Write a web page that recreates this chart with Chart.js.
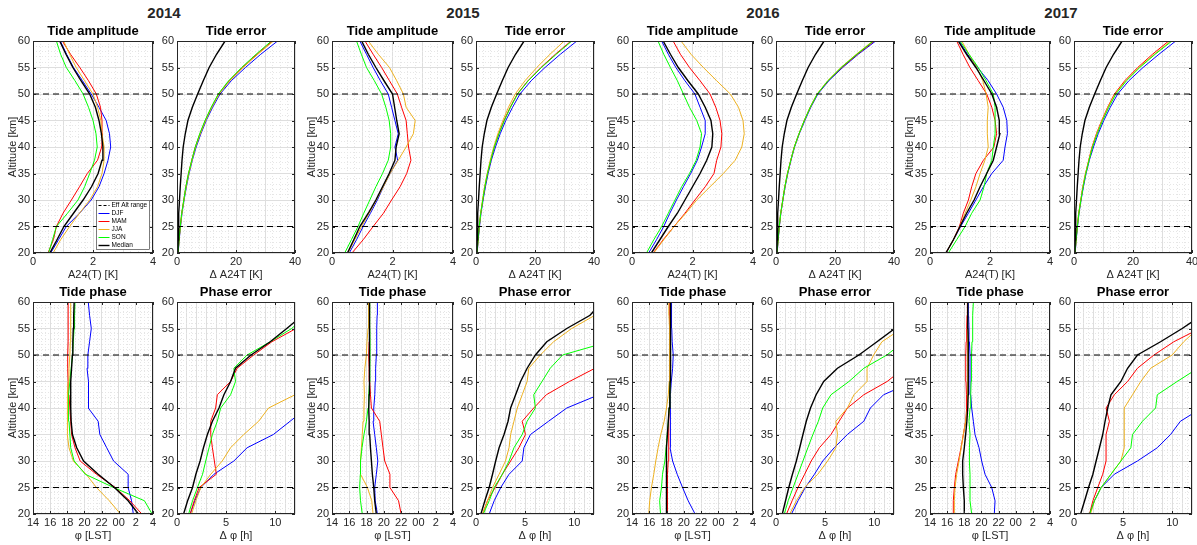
<!DOCTYPE html>
<html>
<head>
<meta charset="utf-8">
<script src="https://cdn.jsdelivr.net/npm/chart.js@4.4.0/dist/chart.umd.min.js"></script>
<style>
body{margin:0;background:#fff;width:1197px;height:545px;overflow:hidden;position:relative;font-family:"Liberation Sans",Arial,sans-serif}
.year{position:absolute;top:4px;width:80px;margin-left:-40px;text-align:center;font-weight:bold;font-size:15px;line-height:17px;color:#262626}
canvas{position:absolute}
</style>
</head>
<body>
<script>
// ---- data ----
var years = ['2014', '2015', '2016', '2017'];
var seasons = ['DJF', 'MAM', 'JJA', 'SON', 'Median'];
var seasonColors = ['#0000ff', '#ff0000', '#edb120', '#00ff00', '#000000'];
var altitude = [20, 22.5, 25, 27.5, 30, 32.5, 35, 37.5, 40, 42.5, 45, 47.5, 50, 52.5, 55, 57.5, 60];
var effAltRange = [25, 50];

var altTicks = [20, 25, 30, 35, 40, 45, 50, 55, 60];
var ampTicks = [0, 2, 4];
var errTicks = [0, 20, 40];
var phaseTicks = [14, 16, 18, 20, 22, 24, 26, 28];
var phaseTickLabels = ['14', '16', '18', '20', '22', '00', '2', '4'];
var phErrTicks = [0, 5, 10];

// tide amplitude A24(T) [K], rows DJF, MAM, JJA, SON, Median
var amp2014 = [
  [0.59, 0.85, 1.11, 1.55, 1.94, 2.2, 2.37, 2.5, 2.59, 2.55, 2.44, 2.2, 1.94, 1.65, 1.35, 1.12, 0.91],
  [0.5, 0.68, 0.78, 1.0, 1.28, 1.55, 1.81, 2.15, 2.29, 2.32, 2.3, 2.25, 2.11, 1.85, 1.56, 1.25, 0.98],
  [0.67, 0.92, 1.22, 1.55, 1.89, 2.15, 2.3, 2.37, 2.37, 2.3, 2.26, 2.15, 2.0, 1.72, 1.44, 1.22, 1.02],
  [0.52, 0.65, 0.78, 1.15, 1.5, 1.72, 1.89, 2.05, 2.14, 2.1, 2.0, 1.85, 1.67, 1.4, 1.11, 0.92, 0.78],
  [0.56, 0.8, 1.03, 1.35, 1.67, 1.95, 2.17, 2.3, 2.33, 2.28, 2.2, 2.08, 1.89, 1.6, 1.33, 1.1, 0.89]
];
var amp2015 = [
  [0.57, 0.81, 1.03, 1.27, 1.5, 1.7, 1.92, 2.17, 2.08, 2.19, 2.08, 1.97, 1.86, 1.6, 1.36, 1.14, 0.92],
  [0.66, 1.03, 1.36, 1.7, 1.97, 2.25, 2.47, 2.61, 2.53, 2.49, 2.45, 2.3, 2.16, 1.9, 1.64, 1.36, 1.09],
  [0.53, 0.75, 0.98, 1.23, 1.47, 1.7, 1.92, 2.19, 2.45, 2.69, 2.75, 2.45, 2.36, 2.14, 1.9, 1.53, 1.2],
  [0.42, 0.64, 0.86, 1.05, 1.25, 1.45, 1.67, 1.86, 1.94, 1.94, 1.89, 1.78, 1.64, 1.4, 1.14, 0.97, 0.81],
  [0.51, 0.72, 0.92, 1.2, 1.45, 1.67, 1.89, 2.08, 2.12, 2.22, 2.14, 2.07, 2.0, 1.72, 1.45, 1.2, 0.98]
];
var amp2016 = [
  [0.55, 0.81, 1.05, 1.25, 1.47, 1.7, 1.94, 2.16, 2.3, 2.42, 2.42, 2.25, 2.08, 1.75, 1.45, 1.2, 0.98],
  [0.7, 1.03, 1.39, 1.75, 2.08, 2.42, 2.71, 2.8, 2.94, 2.97, 2.91, 2.77, 2.58, 2.25, 1.9, 1.6, 1.36],
  [0.72, 1.05, 1.39, 1.78, 2.14, 2.58, 3.02, 3.41, 3.63, 3.71, 3.67, 3.52, 3.25, 2.8, 2.36, 1.95, 1.62],
  [0.48, 0.72, 0.98, 1.2, 1.42, 1.64, 1.9, 2.12, 2.25, 2.3, 2.14, 1.9, 1.7, 1.5, 1.27, 1.05, 0.86],
  [0.64, 0.92, 1.2, 1.5, 1.75, 2.0, 2.25, 2.47, 2.64, 2.67, 2.61, 2.42, 2.19, 1.85, 1.53, 1.27, 1.03]
];
var amp2017 = [
  [0.53, 0.78, 1.02, 1.28, 1.53, 1.78, 2.06, 2.44, 2.5, 2.58, 2.56, 2.44, 2.22, 1.94, 1.59, 1.25, 0.97],
  [0.53, 0.78, 0.98, 1.11, 1.28, 1.39, 1.53, 1.78, 2.13, 2.22, 2.17, 2.06, 1.89, 1.61, 1.33, 1.1, 0.89],
  [0.53, 0.78, 1.0, 1.17, 1.36, 1.53, 1.67, 1.83, 1.94, 1.91, 1.91, 1.94, 1.87, 1.76, 1.56, 1.3, 1.06],
  [0.61, 0.89, 1.17, 1.39, 1.67, 1.8, 1.89, 2.06, 2.11, 2.17, 2.17, 2.17, 2.11, 1.87, 1.61, 1.3, 1.0],
  [0.53, 0.78, 1.0, 1.22, 1.47, 1.67, 1.89, 2.11, 2.22, 2.33, 2.31, 2.22, 2.06, 1.8, 1.53, 1.22, 0.94]
];

// tide error Δ A24T [K]
var err2014 = [
  [0.4, 0.75, 1.2, 1.7, 2.4, 3.2, 4.1, 5.2, 6.5, 8.1, 9.9, 12.1, 14.6, 18.4, 23.2, 28.4, 34.1],
  [0.35, 0.7, 1.1, 1.6, 2.3, 3.0, 3.9, 5.0, 6.2, 7.8, 9.6, 11.7, 14.1, 17.7, 22.2, 27.1, 32.4],
  [0.35, 0.7, 1.15, 1.65, 2.35, 3.1, 4.0, 5.1, 6.3, 7.9, 9.7, 11.8, 14.3, 17.9, 22.4, 27.4, 32.7],
  [0.35, 0.7, 1.1, 1.6, 2.3, 3.0, 3.9, 5.0, 6.2, 7.7, 9.5, 11.6, 14.0, 17.5, 21.9, 26.8, 32.0],
  [0.3, 0.4, 0.5, 0.65, 0.85, 1.1, 1.4, 1.7, 2.1, 2.8, 3.7, 5.2, 7.0, 8.9, 10.9, 13.4, 16.3]
];
var err2015 = [
  [0.4, 0.75, 1.2, 1.7, 2.4, 3.2, 4.1, 5.2, 6.6, 8.2, 10.1, 12.4, 14.9, 18.7, 23.4, 28.6, 34.2],
  [0.35, 0.7, 1.1, 1.6, 2.3, 3.0, 3.9, 5.0, 6.2, 7.7, 9.5, 11.6, 14.0, 17.6, 22.0, 26.9, 32.2],
  [0.35, 0.7, 1.1, 1.6, 2.2, 2.9, 3.8, 4.8, 6.0, 7.4, 9.1, 11.0, 13.3, 16.6, 20.6, 25.1, 29.9],
  [0.35, 0.7, 1.1, 1.6, 2.3, 3.0, 3.9, 5.0, 6.2, 7.8, 9.6, 11.7, 14.1, 17.7, 22.2, 27.2, 32.5],
  [0.3, 0.4, 0.5, 0.65, 0.85, 1.1, 1.4, 1.7, 2.1, 2.8, 3.7, 5.2, 7.0, 8.9, 10.9, 13.4, 16.3]
];
var err2016 = [
  [0.4, 0.75, 1.15, 1.65, 2.35, 3.1, 4.0, 5.1, 6.3, 7.9, 9.8, 11.8, 14.2, 17.9, 22.6, 27.9, 33.8],
  [0.35, 0.7, 1.1, 1.6, 2.3, 3.0, 3.9, 5.0, 6.2, 7.8, 9.6, 11.6, 14.0, 17.7, 22.3, 27.6, 33.3],
  [0.35, 0.7, 1.1, 1.6, 2.3, 3.0, 3.9, 5.0, 6.2, 7.8, 9.6, 11.6, 13.9, 17.5, 22.0, 27.2, 32.8],
  [0.35, 0.7, 1.1, 1.6, 2.3, 3.0, 3.9, 5.0, 6.2, 7.8, 9.6, 11.6, 14.0, 17.6, 22.1, 27.4, 33.0],
  [0.3, 0.4, 0.5, 0.65, 0.85, 1.1, 1.4, 1.7, 2.1, 2.8, 3.7, 5.2, 7.0, 8.9, 10.9, 13.4, 16.3]
];
var err2017 = [
  [0.4, 0.75, 1.2, 1.7, 2.4, 3.2, 4.1, 5.2, 6.6, 8.2, 10.1, 12.3, 14.8, 18.6, 23.4, 28.8, 34.5],
  [0.35, 0.7, 1.1, 1.6, 2.3, 3.0, 3.9, 5.0, 6.1, 7.6, 9.4, 11.4, 13.7, 17.2, 21.6, 26.6, 32.1],
  [0.35, 0.7, 1.1, 1.6, 2.3, 3.0, 3.9, 5.0, 6.2, 7.7, 9.5, 11.5, 13.9, 17.5, 22.0, 27.2, 32.8],
  [0.35, 0.7, 1.15, 1.65, 2.35, 3.1, 4.0, 5.1, 6.3, 7.9, 9.7, 11.8, 14.2, 17.8, 22.3, 27.5, 33.2],
  [0.3, 0.4, 0.5, 0.65, 0.85, 1.1, 1.4, 1.7, 2.1, 2.8, 3.7, 5.2, 7.0, 8.9, 10.9, 13.4, 16.3]
];

// tide phase φ [LST], hours after 24 written as 24+
var ph2014 = [
  [25.7, 25.5, 25.1, 25.1, 23.4, 22.6, 21.8, 21.6, 20.45, 20.5, 20.45, 20.3, 20.4, 20.6, 20.8, 20.6, 20.45],
  [26.7, 25.3, 23.6, 21.4, 19.5, 18.9, 18.5, 18.4, 18.3, 18.2, 18.1, 18.05, 18.05, 18.1, 18.1, 18.1, 18.1],
  [24.2, 22.9, 21.4, 20.2, 18.7, 18.2, 18.0, 18.0, 18.0, 18.05, 18.1, 18.2, 18.3, 18.35, 18.4, 18.4, 18.4],
  [27.9, 27.0, 23.4, 20.1, 18.8, 18.4, 18.3, 18.2, 18.1, 18.2, 18.3, 18.45, 18.6, 18.7, 18.8, 18.85, 18.9],
  [26.3, 25.1, 23.5, 21.6, 19.9, 19.1, 18.6, 18.45, 18.4, 18.4, 18.4, 18.5, 18.6, 18.65, 18.7, 18.75, 18.8]
];
var ph2015 = [
  [19.25, 19.0, 18.94, 19.13, 19.3, 19.13, 18.94, 18.75, 18.83, 18.95, 19.0, 19.05, 19.13, 19.15, 19.2, 19.22, 19.25],
  [22.0, 21.7, 20.7, 20.7, 20.1, 19.9, 19.71, 19.52, 18.56, 18.45, 18.36, 18.3, 18.25, 18.3, 18.33, 18.35, 18.36],
  [18.75, 18.6, 18.1, 17.3, 17.3, 17.4, 17.5, 17.6, 17.7, 17.75, 17.7, 17.8, 17.98, 18.05, 18.17, 18.2, 18.25],
  [17.5, 17.3, 17.2, 17.28, 17.3, 17.47, 17.7, 17.98, 18.17, 18.25, 18.36, 18.38, 18.4, 18.4, 18.38, 18.37, 18.36],
  [19.13, 18.94, 18.83, 18.67, 18.56, 18.45, 18.36, 18.3, 18.25, 18.3, 18.36, 18.36, 18.36, 18.34, 18.33, 18.31, 18.3]
];
var ph2016 = [
  [21.3, 20.5, 19.85, 19.23, 18.7, 18.4, 18.4, 18.42, 18.46, 18.5, 18.55, 18.7, 18.77, 18.65, 18.6, 18.58, 18.57],
  [18.1, 18.07, 18.1, 18.15, 18.19, 18.22, 18.25, 18.28, 18.3, 18.33, 18.35, 18.37, 18.38, 18.38, 18.38, 18.38, 18.38],
  [15.94, 16.05, 16.25, 16.52, 16.75, 17.02, 17.33, 17.72, 17.99, 18.2, 18.3, 18.35, 18.38, 18.35, 18.3, 18.28, 18.26],
  [17.3, 17.2, 17.41, 17.53, 17.8, 17.95, 18.07, 18.2, 18.3, 18.38, 18.42, 18.45, 18.46, 18.46, 18.46, 18.46, 18.46],
  [17.99, 17.99, 17.99, 17.99, 17.99, 17.99, 18.1, 18.2, 18.3, 18.38, 18.42, 18.45, 18.46, 18.46, 18.46, 18.46, 18.46]
];
var ph2017 = [
  [21.5, 21.59, 21.2, 20.42, 20.03, 19.72, 19.25, 19.06, 18.86, 18.75, 18.67, 18.67, 18.67, 18.6, 18.55, 18.5, 18.47],
  [16.72, 16.72, 16.84, 17.0, 17.31, 17.62, 17.89, 18.16, 18.28, 18.25, 18.2, 18.18, 18.16, 18.22, 18.28, 18.32, 18.36],
  [16.84, 16.84, 16.92, 17.11, 17.39, 17.65, 17.89, 18.16, 18.4, 18.38, 18.36, 18.36, 18.36, 18.38, 18.4, 18.4, 18.4],
  [18.86, 18.67, 18.67, 18.67, 18.59, 18.6, 18.67, 18.55, 18.67, 18.75, 18.8, 18.83, 18.86, 18.9, 18.96, 19.0, 19.06],
  [18.0, 18.0, 17.89, 17.81, 17.81, 18.0, 18.16, 18.3, 18.4, 18.45, 18.47, 18.47, 18.47, 18.45, 18.43, 18.41, 18.4]
];

// phase error Δφ [h]; rows stop once the line has left the axes
var pe2014 = [
  [1.34, 1.82, 2.42, 3.76, 5.78, 7.13, 9.8, 11.5, 13.2],
  [1.34, 1.75, 2.25, 4.0, 3.8, 3.6, 3.43, 3.43, 3.93, 4.1, 5.45, 6.12, 7.8, 9.65, 12.1, 14.0],
  [1.48, 1.92, 2.42, 3.43, 4.6, 5.45, 6.79, 8.3, 9.31, 12.0, 13.6],
  [1.18, 1.58, 2.08, 2.6, 2.92, 3.26, 3.6, 4.1, 4.44, 5.45, 5.95, 5.78, 7.13, 9.48, 11.66, 13.2],
  [0.67, 1.08, 1.58, 1.92, 2.35, 2.69, 3.09, 3.6, 4.27, 4.77, 5.45, 5.95, 7.53, 9.48, 11.16, 12.8, 14.5]
];
var pe2015 = [
  [1.34, 1.85, 2.52, 3.36, 4.7, 4.87, 5.54, 7.38, 9.23, 12.5],
  [0.67, 1.17, 1.95, 2.68, 3.52, 4.36, 5.03, 4.7, 5.87, 7.15, 9.5, 12.1],
  [0.67, 1.17, 1.68, 2.35, 3.0, 3.36, 3.52, 3.86, 4.2, 4.7, 5.2, 5.37, 6.54, 7.89, 9.73, 12.1, 13.0],
  [0.74, 1.34, 1.85, 2.68, 3.36, 3.86, 4.7, 5.2, 6.04, 5.87, 6.71, 7.55, 8.8, 13.5],
  [0.5, 0.9, 1.34, 1.68, 2.0, 2.35, 2.85, 3.26, 3.52, 4.03, 4.53, 5.2, 6.04, 7.2, 9.23, 11.6, 12.8]
];
var pe2016 = [
  [1.57, 2.24, 2.98, 3.91, 4.75, 5.92, 7.26, 8.93, 9.6, 10.94, 14.0],
  [1.07, 1.64, 2.24, 2.91, 3.58, 4.41, 5.59, 6.42, 7.26, 8.93, 11.3, 13.0],
  [1.4, 2.07, 2.91, 4.25, 5.25, 6.09, 6.25, 6.09, 7.26, 7.93, 9.26, 9.26, 9.93, 10.77, 12.8],
  [0.84, 1.24, 1.74, 2.24, 2.74, 3.24, 3.75, 4.31, 4.75, 5.59, 7.42, 8.93, 11.27, 13.0],
  [0.64, 0.97, 1.3, 1.67, 2.07, 2.41, 2.74, 3.08, 3.51, 4.08, 4.85, 6.25, 8.43, 10.27, 12.1, 13.5]
];
var pe2017 = [
  [1.58, 2.08, 2.76, 4.1, 6.45, 8.47, 9.82, 10.82, 13.0],
  [1.58, 1.92, 2.42, 2.92, 3.26, 3.26, 3.26, 3.6, 3.26, 4.1, 5.45, 6.45, 8.13, 10.15, 12.8],
  [1.68, 2.08, 2.76, 3.76, 4.77, 5.11, 5.11, 5.11, 5.11, 5.95, 6.79, 7.8, 9.98, 11.16, 12.6],
  [1.58, 2.08, 2.76, 3.76, 4.77, 5.78, 5.95, 6.96, 8.3, 8.47, 10.49, 12.6],
  [0.67, 1.08, 1.48, 1.92, 2.25, 2.59, 2.92, 3.16, 3.43, 3.76, 4.77, 5.45, 6.45, 8.8, 11.0, 13.0]
];

var ampData = [amp2014, amp2015, amp2016, amp2017];
var errData = [err2014, err2015, err2016, err2017];
var phData = [ph2014, ph2015, ph2016, ph2017];
var peData = [pe2014, pe2015, pe2016, pe2017];

// ---- layout ----
var FONT = '"Liberation Sans", Arial, Helvetica, sans-serif';
var INK = '#262626';
var leftCol = [33, 332, 632, 930];
var rightCol = [177, 476, 776, 1074];
var leftW = [120, 121, 121, 120];
var rightW = 118;
var topRow = 41, bottomRow = 302, plotH = 212;

Chart.defaults.font.family = FONT;

function steps(a, b, step) {
  var out = [], n = Math.round((b - a) / step);
  for (var i = 0; i <= n; i++) out.push(Math.round((a + i * step) * 1e6) / 1e6);
  return out;
}
function onStep(v, step) {
  var r = v / step;
  return Math.abs(r - Math.round(r)) < 1e-6;
}

// axes box, inward ticks and (first panel) legend, drawn the MATLAB way
var boxPlugin = {
  id: 'matlabBox',
  afterDraw: function (chart, args, opts) {
    var a = chart.chartArea, c = chart.ctx, xs = chart.scales.x, ys = chart.scales.y;
    c.save();
    c.strokeStyle = INK;
    c.lineWidth = 1;
    c.beginPath();
    opts.xTicks.forEach(function (v) {
      var px = Math.round(xs.getPixelForValue(v)) + 0.5;
      c.moveTo(px, a.bottom); c.lineTo(px, a.bottom - 3);
      c.moveTo(px, a.top); c.lineTo(px, a.top + 3);
    });
    altTicks.forEach(function (v) {
      var py = Math.round(ys.getPixelForValue(v)) + 0.5;
      c.moveTo(a.left, py); c.lineTo(a.left + 3, py);
      c.moveTo(a.right, py); c.lineTo(a.right - 3, py);
    });
    c.stroke();
    c.strokeRect(Math.round(a.left) + 0.5, Math.round(a.top) + 0.5, Math.round(a.right - a.left) - 1, Math.round(a.bottom - a.top) - 1);

    if (opts.legend) {
      var bx = Math.round(a.right) - 56.5, by = Math.round(a.bottom) - 52.5, bw = 53, bh = 49;
      c.fillStyle = '#fff';
      c.fillRect(bx, by, bw, bh);
      c.lineWidth = 0.6;
      c.strokeStyle = INK;
      c.strokeRect(bx, by, bw, bh);
      c.font = '6.5px ' + FONT;
      c.textBaseline = 'middle';
      chart.data.datasets.forEach(function (d, i) {
        var yy = by + 5 + i * 8;
        c.beginPath();
        c.strokeStyle = d.borderColor;
        c.lineWidth = d.borderWidth;
        c.setLineDash(d.borderDash ? [3, 2] : []);
        c.moveTo(bx + 2, yy); c.lineTo(bx + 13, yy);
        c.stroke();
        c.setLineDash([]);
        c.fillStyle = '#000';
        c.fillText(d.label, bx + 15, yy);
      });
    }
    c.restore();
  }
};

function drawPanel(p) {
  var cv = document.createElement('canvas');
  cv.width = p.width + 37;
  cv.height = 268;
  cv.style.left = (p.left - 27) + 'px';
  cv.style.top = (p.top - 24) + 'px';
  document.body.appendChild(cv);

  var ds = [{
    label: 'Eff Alt range',
    data: [
      { x: p.xMin, y: effAltRange[0] }, { x: p.xMax, y: effAltRange[0] }, { x: p.xMax, y: null },
      { x: p.xMin, y: effAltRange[1] }, { x: p.xMax, y: effAltRange[1] }
    ],
    borderColor: '#000', borderWidth: 1.2, borderDash: [6, 4], order: 0
  }];
  p.series.forEach(function (vals, j) {
    ds.push({
      label: seasons[j],
      data: vals.map(function (v, i) { return { x: v, y: altitude[i] }; }),
      borderColor: seasonColors[j],
      borderWidth: j === 4 ? 1.4 : 1,
      order: 5 - j
    });
  });

  var tickFont = { family: FONT, size: 11 };
  new Chart(cv, {
    type: 'line',
    data: { datasets: ds },
    options: {
      responsive: false,
      animation: false,
      devicePixelRatio: 1,
      layout: { padding: { left: 0, right: 10, top: 0, bottom: 2 } },
      elements: { point: { radius: 0 }, line: { tension: 0 } },
      plugins: {
        legend: { display: false },
        tooltip: { enabled: false },
        title: {
          display: true, text: p.title, fullSize: false, color: '#000',
          font: { family: FONT, size: 13, weight: 'bold' },
          padding: { top: 7, bottom: 1.4 }
        },
        matlabBox: { xTicks: p.xTicks, legend: !!p.legend }
      },
      scales: {
        x: {
          type: 'linear', min: p.xMin, max: p.xMax,
          afterFit: function (s) { s.height = 30; },
          afterBuildTicks: function (s) {
            s.ticks = steps(p.xMin, p.xMax, p.xMinor).map(function (v) { return { value: v }; });
          },
          ticks: {
            autoSkip: false, maxRotation: 0, padding: 2.5, color: INK, font: tickFont,
            callback: function (v) {
              var k = p.xTicks.indexOf(v);
              return k >= 0 ? p.xLabels[k] : '';
            }
          },
          grid: {
            drawTicks: false,
            color: function (ctx) {
              return ctx.tick && onStep(ctx.tick.value - p.xMin, p.xMajor) ? '#dedede' : '#e6e6e6';
            }
          },
          border: {
            display: false,
            dash: function (ctx) {
              return ctx.tick && !onStep(ctx.tick.value - p.xMin, p.xMajor) ? [1, 2] : [];
            }
          },
          title: { display: true, text: p.xTitle, color: INK, font: tickFont, padding: { top: 0, bottom: 1.4 } }
        },
        y: {
          type: 'linear', min: 20, max: 60,
          afterFit: function (s) { s.width = 27; },
          afterBuildTicks: function (s) {
            s.ticks = steps(20, 60, 1).map(function (v) { return { value: v }; });
          },
          ticks: {
            autoSkip: false, padding: 3, color: INK, font: tickFont,
            callback: function (v) { return altTicks.indexOf(v) >= 0 ? String(v) : ''; }
          },
          grid: {
            drawTicks: false,
            color: function (ctx) {
              return ctx.tick && onStep(ctx.tick.value, 5) ? '#dedede' : '#e6e6e6';
            }
          },
          border: {
            display: false,
            dash: function (ctx) {
              return ctx.tick && !onStep(ctx.tick.value, 5) ? [1, 2] : [];
            }
          },
          title: { display: !!p.yTitle, text: p.yTitle || '', color: INK, font: tickFont, padding: 0 }
        }
      }
    },
    plugins: [boxPlugin]
  });
}

function numLabels(arr) { return arr.map(String); }

years.forEach(function (yr, k) {
  var d = document.createElement('div');
  d.className = 'year';
  d.style.left = ((leftCol[k] + rightCol[k] + rightW) / 2) + 'px';
  d.textContent = yr;
  document.body.appendChild(d);

  drawPanel({
    left: leftCol[k], top: topRow, width: leftW[k], title: 'Tide amplitude',
    xMin: 0, xMax: 4, xMinor: 0.25, xMajor: 1, xTicks: ampTicks, xLabels: numLabels(ampTicks),
    xTitle: 'A24(T) [K]', yTitle: 'Altitude [km]', series: ampData[k], legend: k === 0
  });
  drawPanel({
    left: rightCol[k], top: topRow, width: rightW, title: 'Tide error',
    xMin: 0, xMax: 40, xMinor: 2.5, xMajor: 10, xTicks: errTicks, xLabels: numLabels(errTicks),
    xTitle: '\u0394 A24T [K]', series: errData[k]
  });
  drawPanel({
    left: leftCol[k], top: bottomRow, width: leftW[k], title: 'Tide phase',
    xMin: 14, xMax: 28, xMinor: 0.5, xMajor: 2, xTicks: phaseTicks, xLabels: phaseTickLabels,
    xTitle: '\u03C6 [LST]', yTitle: 'Altitude [km]', series: phData[k]
  });
  drawPanel({
    left: rightCol[k], top: bottomRow, width: rightW, title: 'Phase error',
    xMin: 0, xMax: 12, xMinor: 0.5, xMajor: 1, xTicks: phErrTicks, xLabels: numLabels(phErrTicks),
    xTitle: '\u0394 \u03C6 [h]', series: peData[k]
  });
});
</script>
</body>
</html>
